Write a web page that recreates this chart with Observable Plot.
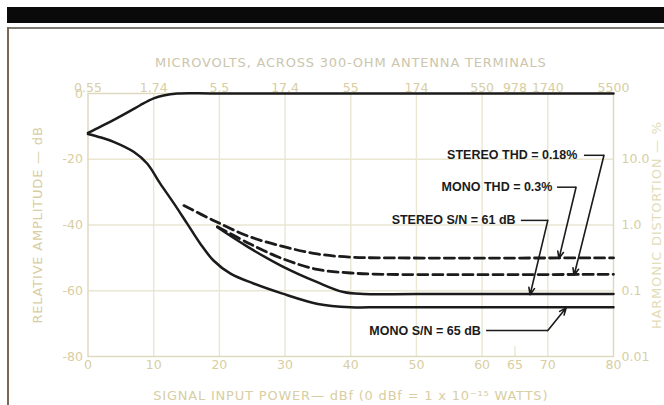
<!DOCTYPE html>
<html>
<head>
<meta charset="utf-8">
<script src="https://cdn.jsdelivr.net/npm/d3@7"></script>
<script src="https://cdn.jsdelivr.net/npm/@observablehq/plot@0.6"></script>
<style>
  html, body { margin: 0; padding: 0; background: #fff; }
  #wrap { position: relative; width: 664px; height: 405px; overflow: hidden; background: #fff; }
  #bar { position: absolute; left: 7px; top: 7px; width: 657px; height: 16px; background: #0a0a0a; }
  #rule { position: absolute; left: 7px; top: 27px; width: 657px; height: 2px; background: #7d7a72; }
  #side { position: absolute; left: 7px; top: 27px; width: 2px; height: 378px; background: #7a6656; }
  #wrap svg { position: absolute; left: 0; top: 0; }
</style>
</head>
<body>
<div id="wrap">
  <div id="bar"></div>
  <div id="rule"></div>
  <div id="side"></div>
</div>
<script>
// ---- data ----
const bottomTicks = [0, 10, 20, 30, 40, 50, 60, 65, 70, 80];
const bottomLabels = ["0", "10", "20", "30", "40", "50", "60", "65", "70", "80"];
const topTicks = [0, 10, 20, 30, 40, 50, 60, 65, 70, 80];
const topLabels = ["0.55", "1.74", "5.5", "17.4", "55", "174", "550", "978", "1740", "5500"];
const leftTicks = [0, -20, -40, -60, -80];
const leftLabels = ["0", "-20", "-40", "-60", "-80"];
const distortionTicks = [10, 1, 0.1, 0.01];
const distortionLabels = ["10.0", "1.0", "0.1", "0.01"];
const gridX = [10, 20, 30, 40, 50, 60, 70];
const gridY = [-20, -40, -60];

// curves: [signal input dBf, relative amplitude dB]
const audioOutput = [[0,-12],[1,-11],[2.9,-9.1],[4.5,-7.4],[6.5,-5.2],[8,-3.5],[10,-1.5],[11.5,-0.6],[13.6,0],[20,0],[80,0]];
const monoNoise = [[0,-12.3],[2,-13.4],[3.9,-14.7],[7,-17.8],[9,-21.3],[11,-27.4],[13.1,-33.5],[15.1,-39.6],[17.1,-45.7],[19.1,-50.8],[21.7,-54.8],[25.2,-57.8],[29.5,-60.8],[35,-64],[40,-65],[45,-65],[80,-65]];
const stereoNoise = [[19.7,-40.7],[24.2,-46.5],[29.5,-52.5],[34.9,-57.4],[38.9,-60.4],[42,-61],[50,-61],[80,-61]];
const monoTHD = [[14.6,-34.1],[19.1,-38.6],[24.4,-43.4],[29.8,-46.6],[34.9,-48.8],[40,-49.8],[45,-50],[80,-50]];
const stereoTHD = [[19.7,-40.5],[24.7,-45.8],[29.8,-50.4],[34.9,-53.5],[40,-54.6],[45,-55],[80,-55]];

// annotations
const noteText = ["STEREO THD = 0.18%", "MONO THD = 0.3%", "STEREO S/N = 61 dB", "MONO S/N = 65 dB"];
const noteAt = [[74.5,-18.8],[70.7,-28.5],[65.1,-38.6],[59.8,-72.1]];
const leaderElbow = [[[75.5,-18.8],[78.55,-18.8]],[[71.4,-28.5],[74.3,-28.5]],[[65.9,-38.6],[70.0,-38.6]],[[60.6,-72.1],[70.0,-72.1]]];
const leaderTip = [[74.0,-55.3],[71.7,-50.2],[67.3,-61.2],[72.8,-65.2]];

const topTitle = "MICROVOLTS, ACROSS 300-OHM ANTENNA TERMINALS";
const bottomTitle = "SIGNAL INPUT POWER\u2014 dBf (0 dBf = 1 x 10\u207B\u00B9\u2075 WATTS)";
const leftTitle = "RELATIVE AMPLITUDE \u2014 dB";
const rightTitle = "HARMONIC DISTORTION \u2014 %";

// ---- styles ----
const tan = "#d8cea3";
const titleTan = "#cbc6ad";
const gridColor = "#e9e6d2";
const ink = "#1b1b1b";
const font = "DejaVu Sans, sans-serif";
const noteFont = "Liberation Sans, Arial, sans-serif";

const distPos = p => -80 + 20 * Math.log10(p / 0.01);
const distPositions = distortionTicks.map(distPos);

const notes = noteText.map((t, i) => ({text: t, x: noteAt[i][0], y: noteAt[i][1]}));
const elbows = leaderElbow.map(e => ({x1: e[0][0], y1: e[0][1], x2: e[1][0], y2: e[1][1]}));
const tips = leaderTip.map((t, i) => ({x1: leaderElbow[i][1][0], y1: leaderElbow[i][1][1], x2: t[0], y2: t[1]}));

const chart = Plot.plot({
  width: 664,
  height: 405,
  marginLeft: 87.5,
  marginRight: 51,
  marginTop: 93,
  marginBottom: 49,
  x: {domain: [0, 80]},
  y: {domain: [-80, 0]},
  style: {fontFamily: font, background: "transparent", overflow: "visible"},
  marks: [
    Plot.ruleX(gridX, {stroke: gridColor, strokeWidth: 1.4}),
    Plot.ruleY(gridY, {stroke: gridColor, strokeWidth: 1.4}),
    Plot.ruleX([65], {y1: -80, y2: -77, stroke: gridColor, strokeWidth: 1.4}),
    Plot.frame({stroke: "#ddd8bd", strokeWidth: 1.4}),
    Plot.axisX(bottomTicks, {anchor: "bottom", tickSize: 0, tickPadding: 4, fontSize: 12.5, fill: tan, label: null,
      tickFormat: d => bottomLabels[bottomTicks.indexOf(d)]}),
    Plot.axisX(topTicks, {anchor: "top", tickSize: 0, tickPadding: 2, fontSize: 12.5, fill: tan, label: null,
      tickFormat: d => topLabels[topTicks.indexOf(d)]}),
    Plot.axisY(leftTicks, {anchor: "left", tickSize: 0, tickPadding: 5, fontSize: 12.5, fill: tan, label: null,
      tickFormat: d => leftLabels[leftTicks.indexOf(d)]}),
    Plot.axisY(distPositions, {anchor: "right", tickSize: 0, tickPadding: 8, fontSize: 12.5, fill: tan, label: null,
      tickFormat: d => distortionLabels[distPositions.indexOf(d)]}),
    Plot.text([topTitle], {frameAnchor: "top", textAnchor: "middle", lineAnchor: "middle", dy: -31, fontSize: 13, fill: titleTan}),
    Plot.text([bottomTitle], {frameAnchor: "bottom", textAnchor: "middle", lineAnchor: "middle", dy: 39, fontSize: 13, fill: tan}),
    Plot.text([leftTitle], {frameAnchor: "left", textAnchor: "middle", lineAnchor: "middle", dx: -50.5, rotate: -90, fontSize: 13, fill: tan}),
    Plot.text([rightTitle], {frameAnchor: "right", textAnchor: "middle", lineAnchor: "middle", dx: 43, rotate: -90, fontSize: 13, fill: "#e3dcb8"}),
    Plot.line(audioOutput, {curve: "catmull-rom", stroke: ink, strokeWidth: 2.5}),
    Plot.line(monoNoise, {curve: "catmull-rom", stroke: ink, strokeWidth: 2.5}),
    Plot.line(stereoNoise, {curve: "catmull-rom", stroke: ink, strokeWidth: 2.5}),
    Plot.line(monoTHD, {curve: "catmull-rom", stroke: ink, strokeWidth: 2.8, strokeDasharray: "10,5"}),
    Plot.line(stereoTHD, {curve: "catmull-rom", stroke: ink, strokeWidth: 2.8, strokeDasharray: "10,5"}),
    Plot.link(elbows, {x1: "x1", y1: "y1", x2: "x2", y2: "y2", stroke: ink, strokeWidth: 1.5}),
    Plot.arrow(tips, {x1: "x1", y1: "y1", x2: "x2", y2: "y2", stroke: ink, strokeWidth: 1.6, headLength: 7, headAngle: 45}),
    Plot.text(notes, {x: "x", y: "y", text: "text", textAnchor: "end", fontSize: 12.5, fontWeight: "bold", fill: ink, fontFamily: noteFont})
  ]
});
document.getElementById("wrap").appendChild(chart);
// widen the tracking of the light axis titles as in the printed figure
d3.select(chart).selectAll("text")
  .filter(function () { return [topTitle, bottomTitle, leftTitle, rightTitle].includes(this.textContent); })
  .attr("letter-spacing", "0.8px");
</script>
</body>
</html>
